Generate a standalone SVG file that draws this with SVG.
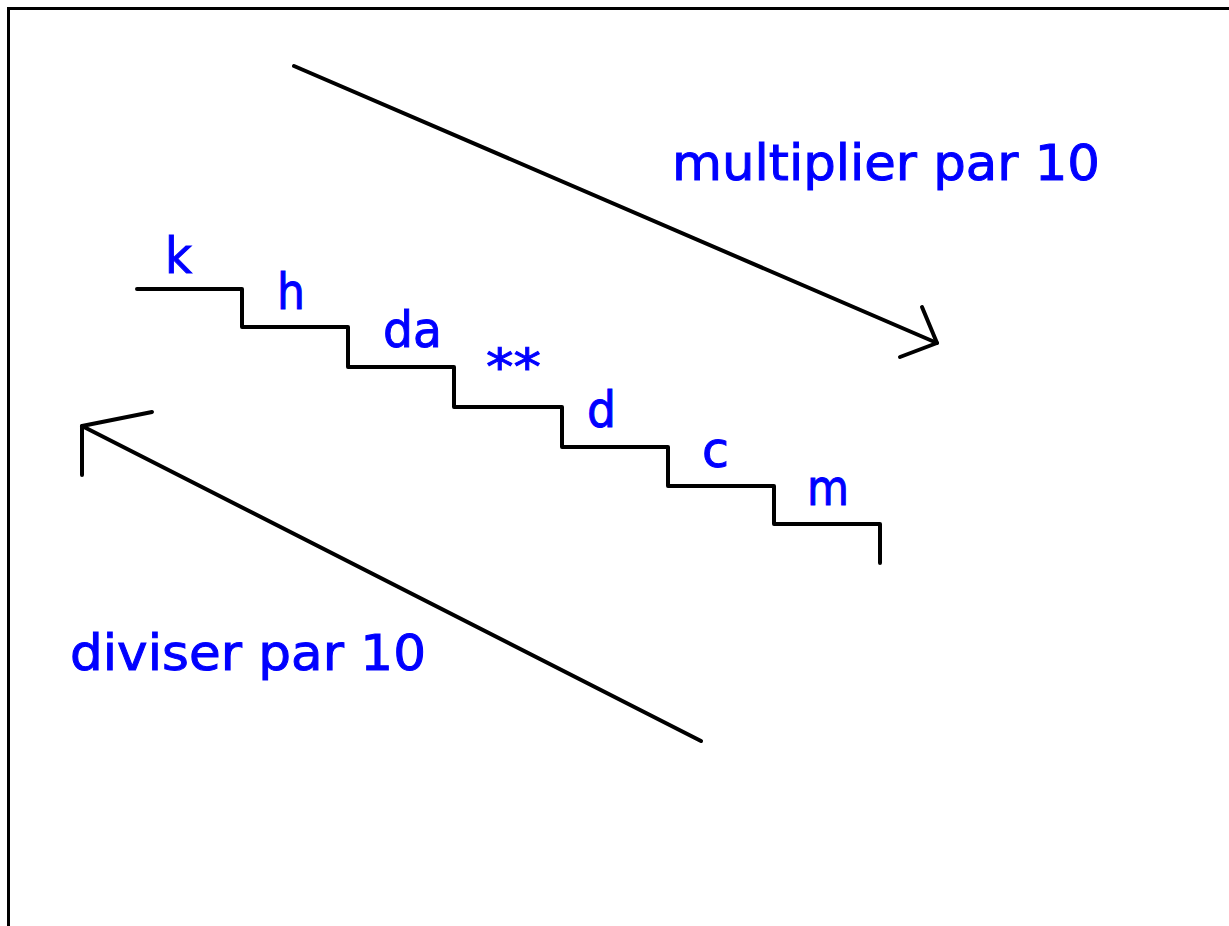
<svg xmlns="http://www.w3.org/2000/svg" width="1229" height="926" viewBox="0 0 1229 926">
<style>
.ln{fill:none;stroke:#000;stroke-width:4;stroke-linecap:round;stroke-linejoin:round}
.lbl{font-family:"DejaVu Sans","Noto Sans",sans-serif;fill:#0000FF;stroke:#0000FF;stroke-width:1;font-size:50px}
</style>
<rect x="0" y="0" width="1229" height="926" fill="#fff"/>
<rect x="8.5" y="8.5" width="1240" height="940" fill="none" stroke="#000" stroke-width="3"/>
<g id="stairs">
<polyline class="ln" points="137,289 242,289 242,327 348,327 348,367 454,367 454,407 562,407 562,447 668,447 668,486 774,486 774,524 880,524 880,563"/>
</g>
<g id="labels-units">
<text class="lbl" x="165" y="273" textLength="27" lengthAdjust="spacingAndGlyphs">k</text>
<text class="lbl" x="277" y="309" textLength="28" lengthAdjust="spacingAndGlyphs">h</text>
<text class="lbl" x="383" y="347" textLength="59" lengthAdjust="spacingAndGlyphs">da</text>
<text class="lbl" x="486" y="384" textLength="55" lengthAdjust="spacingAndGlyphs">**</text>
<text class="lbl" x="587" y="427" textLength="29" lengthAdjust="spacingAndGlyphs">d</text>
<text class="lbl" x="702" y="467" textLength="27" lengthAdjust="spacingAndGlyphs">c</text>
<text class="lbl" x="807" y="505" textLength="42" lengthAdjust="spacingAndGlyphs">m</text>
</g>
<g id="connectors">
<g id="arrow-multiplier">
<line class="ln" x1="294" y1="66" x2="937" y2="343"/>
<polyline class="ln" points="922,307 937,343 900,357"/>
</g>
<g id="arrow-diviser">
<line class="ln" x1="701" y1="741" x2="82" y2="426"/>
<polyline class="ln" points="152,412 82,426 82,475"/>
</g>
</g>
<g id="label-multiplier">
<text class="lbl" x="672" y="180" textLength="428" lengthAdjust="spacingAndGlyphs">multiplier par 10</text>
</g>
<g id="label-diviser">
<text class="lbl" x="70" y="670" textLength="356" lengthAdjust="spacingAndGlyphs">diviser par 10</text>
</g>
</svg>
